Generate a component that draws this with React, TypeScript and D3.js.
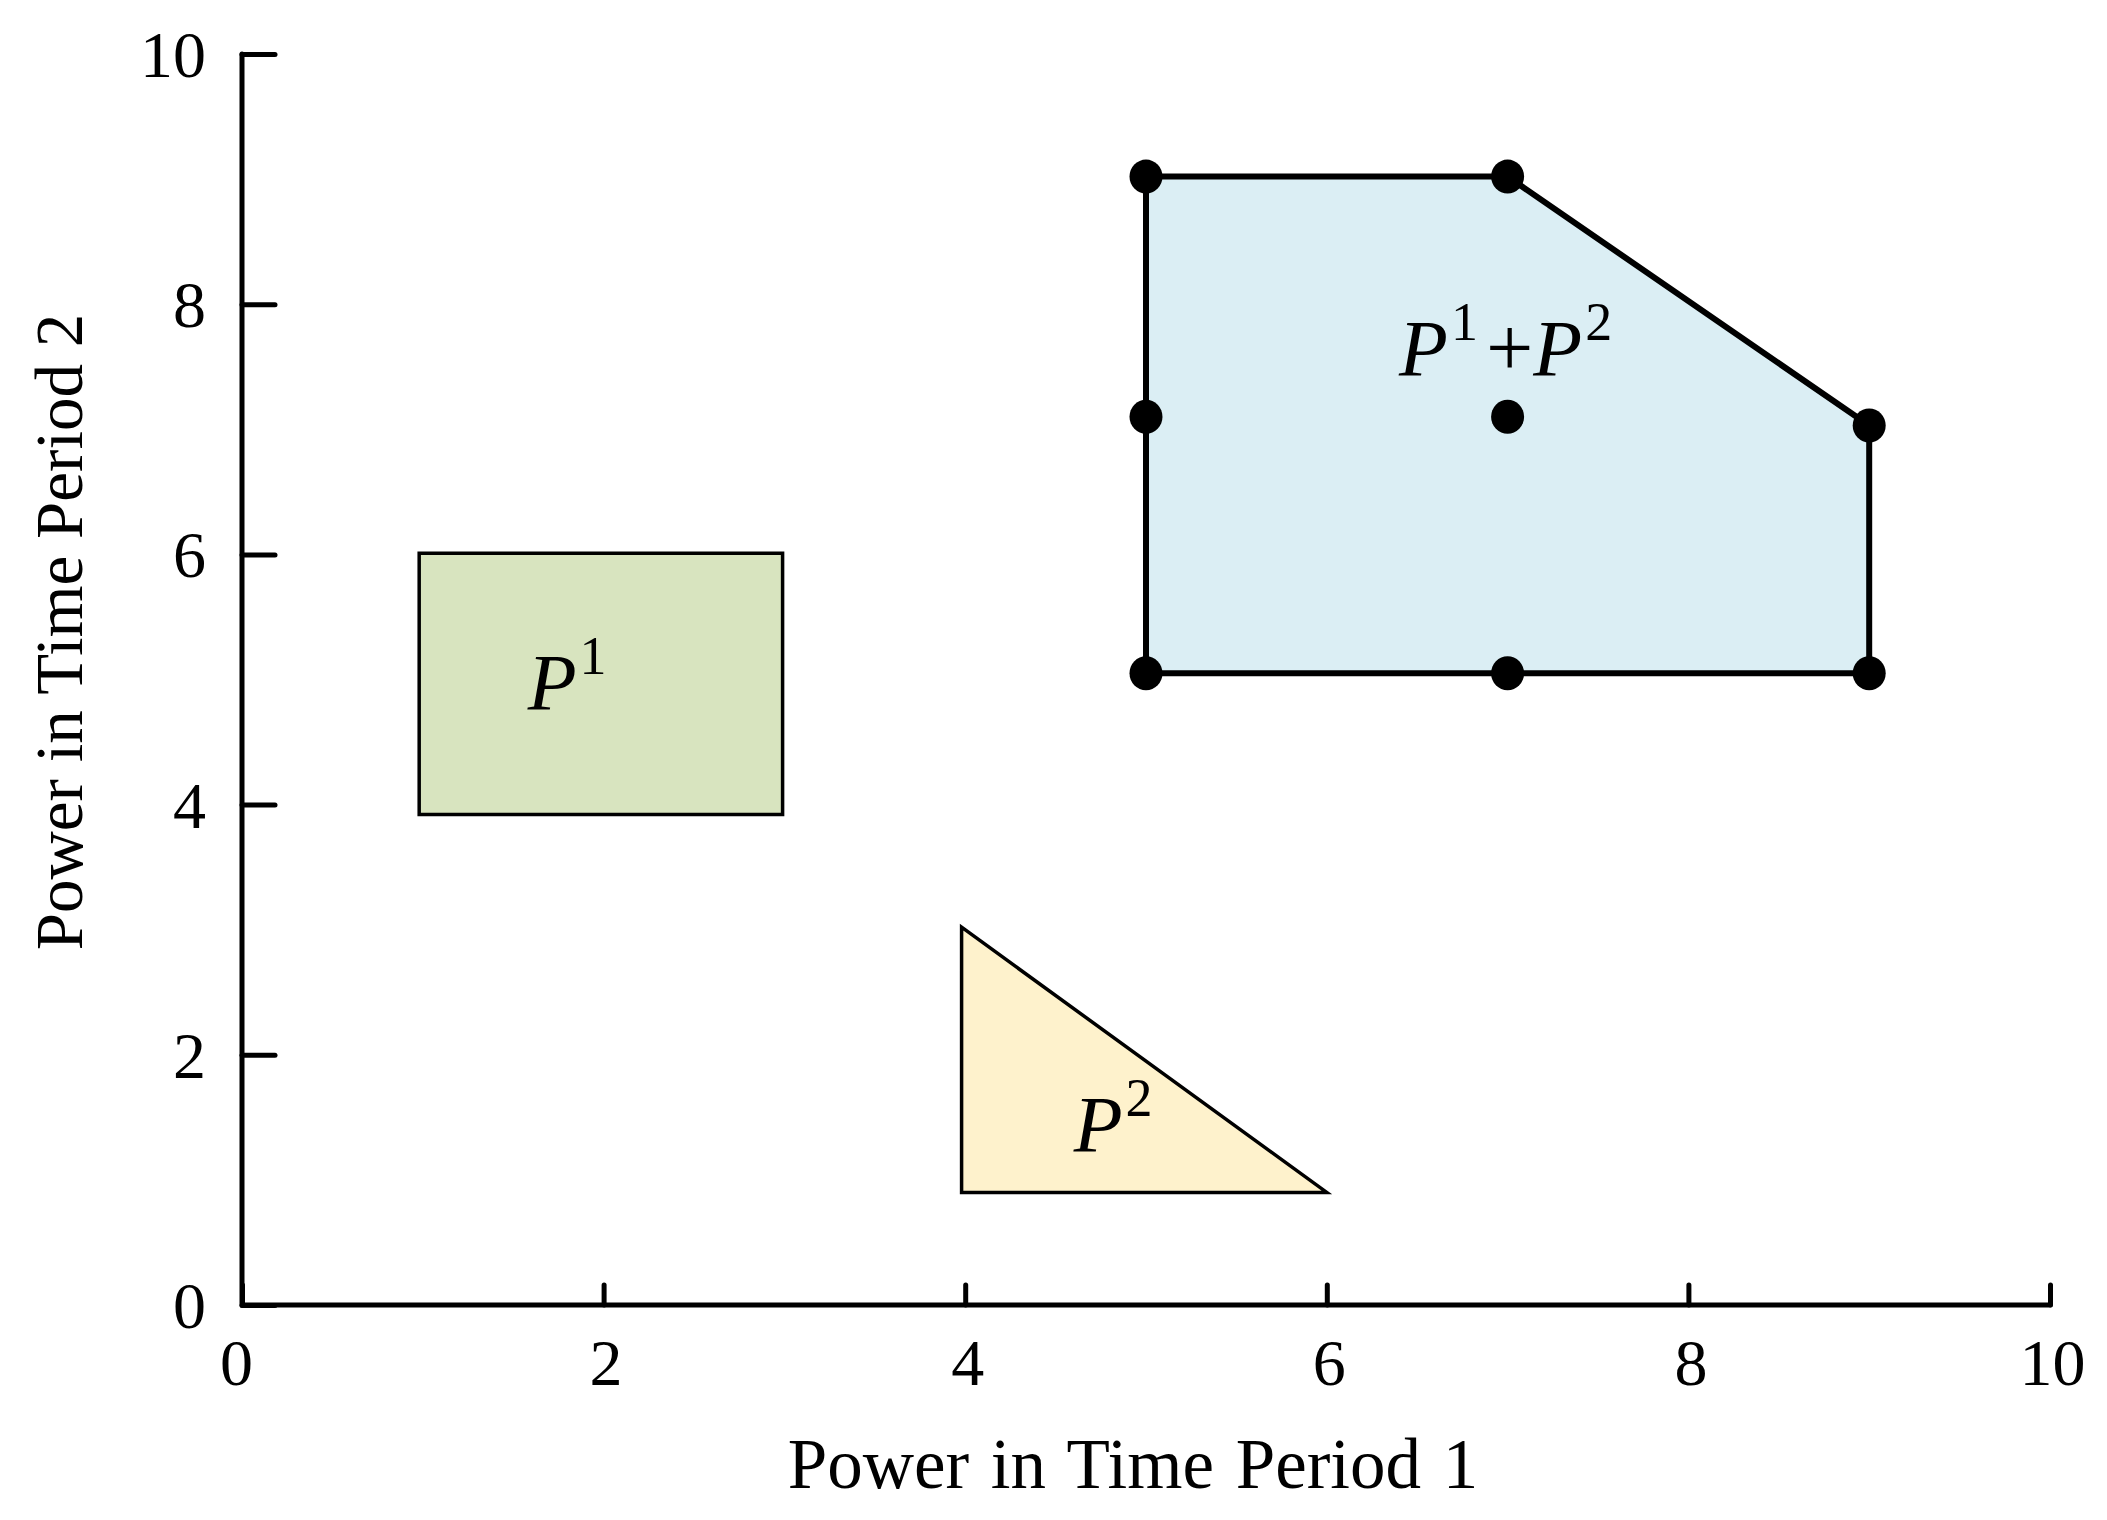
import React, { useRef, useEffect } from "react";
import * as d3 from "d3";

const WIDTH = 2107;
const HEIGHT = 1520;

const CONFIG = {
  xRange: [242, 2050],
  yRange: [1305, 54],
  font: "'Liberation Serif', 'Times New Roman', serif",
  tickFontSize: 66,
  titleFontSize: 71,
  labelFontSize: 80,
  supFontSize: 54,
  axisWidth: 5,
};

// data
const xTicks = [0, 2, 4, 6, 8, 10];
const yTicks = [0, 2, 4, 6, 8, 10];
const xTitle = "Power in Time Period 1";
const yTitle = "Power in Time Period 2";

// P1: box
const p1Polygon: [number, number][] = [
  [0.98, 3.92],
  [2.99, 3.92],
  [2.99, 6.01],
  [0.98, 6.01],
];
// P2: triangle
const p2Polygon: [number, number][] = [
  [3.98, 3.02],
  [6.0, 0.9],
  [3.98, 0.9],
];
// P1 + P2: Minkowski sum
const sumPolygon: [number, number][] = [
  [5, 9.02],
  [7, 9.02],
  [9, 7.03],
  [9, 5.05],
  [5, 5.05],
];
const sumPoints: [number, number][] = [
  [5, 9.02],
  [7, 9.02],
  [9, 7.03],
  [9, 5.05],
  [7, 5.05],
  [5, 5.05],
  [5, 7.1],
  [7, 7.1],
];

const fills = { p1: "#d8e4bf", p2: "#fef2cc", sum: "#dbeef4" };

// label anchors (data units, left/baseline)
const labels = [
  { pos: [1.58, 4.76], parts: [["P", "i"], ["1", "s"]] },
  { pos: [4.6, 1.22], parts: [["P", "i"], ["2", "s"]] },
  { pos: [6.4, 7.43], parts: [["P", "i"], ["1", "s"], ["+", "n"], ["P", "i"], ["2", "s"]] },
];

const App = () => {
  const ref = useRef<SVGSVGElement | null>(null);

  useEffect(() => {
    const svgEl = ref.current;
    if (!svgEl) return;
    const svg = d3.select(svgEl);
    svg.selectAll("*").remove();

    const x = d3.scaleLinear().domain([0, 10]).range(CONFIG.xRange);
    const y = d3.scaleLinear().domain([0, 10]).range(CONFIG.yRange);
    const line = d3
      .line<[number, number]>()
      .x((d) => x(d[0]))
      .y((d) => y(d[1]))
      .curve(d3.curveLinearClosed);

    svg.append("rect").attr("width", WIDTH).attr("height", HEIGHT).attr("fill", "#fff");

    // shapes
    svg.append("path").attr("d", line(p1Polygon)).attr("fill", fills.p1).attr("stroke", "#000").attr("stroke-width", 3.5);
    svg.append("path").attr("d", line(p2Polygon)).attr("fill", fills.p2).attr("stroke", "#000").attr("stroke-width", 3.5);
    svg
      .append("path")
      .attr("d", line(sumPolygon))
      .attr("fill", fills.sum)
      .attr("stroke", "#000")
      .attr("stroke-width", 6)
      .attr("stroke-linejoin", "round");

    svg
      .selectAll(".pt")
      .data(sumPoints)
      .join("ellipse")
      .attr("class", "pt")
      .attr("cx", (d) => x(d[0]))
      .attr("cy", (d) => y(d[1]))
      .attr("rx", 16.5)
      .attr("ry", 17)
      .attr("fill", "#000");

    // labels with superscripts
    labels.forEach((lab) => {
      const t = svg
        .append("text")
        .attr("x", x(lab.pos[0]))
        .attr("y", y(lab.pos[1]))
        .attr("font-family", CONFIG.font)
        .attr("font-size", CONFIG.labelFontSize);
      let raised = false;
      lab.parts.forEach(([s, kind]) => {
        const span = t.append("tspan").text(s);
        if (kind === "s") {
          span.attr("font-size", CONFIG.supFontSize).attr("dy", raised ? 0 : -36).attr("dx", 3);
          raised = true;
        } else {
          if (raised) span.attr("dy", 36).attr("dx", kind === "n" ? 8 : 4);
          raised = false;
          if (kind === "i") span.attr("font-style", "italic");
          if (kind === "n") span.attr("font-size", 84);
        }
      });
    });

    // axes
    const xAxis = svg
      .append("g")
      .attr("transform", `translate(0,${y(0)})`)
      .call(d3.axisBottom(x).tickValues(xTicks).tickSize(-20).tickPadding(0).tickSizeOuter(0));
    xAxis.select(".domain").remove();
    xAxis.selectAll(".tick line").attr("stroke", "#000").attr("stroke-width", CONFIG.axisWidth).attr("stroke-linecap", "round");
    xAxis
      .selectAll(".tick text")
      .attr("font-family", CONFIG.font)
      .attr("font-size", CONFIG.tickFontSize)
      .attr("fill", "#000")
      .attr("dy", null)
      .attr("y", 80)
      .attr("dx", (d: any) => (d === 0 ? -6 : 2));

    const yAxis = svg
      .append("g")
      .attr("transform", `translate(${x(0)},0)`)
      .call(d3.axisLeft(y).tickValues(yTicks).tickSize(-33).tickPadding(0).tickSizeOuter(0));
    yAxis.select(".domain").remove();
    yAxis.selectAll(".tick line").attr("stroke", "#000").attr("stroke-width", CONFIG.axisWidth).attr("stroke-linecap", "round");
    yAxis
      .selectAll(".tick text")
      .attr("font-family", CONFIG.font)
      .attr("font-size", CONFIG.tickFontSize)
      .attr("fill", "#000")
      .attr("x", -36)
      .attr("dy", "0.34em");

    // axis lines (L shape)
    svg
      .append("path")
      .attr("d", `M${x(0)},${y(10)}L${x(0)},${y(0)}L${x(10)},${y(0)}`)
      .attr("fill", "none")
      .attr("stroke", "#000")
      .attr("stroke-width", CONFIG.axisWidth)
      .attr("stroke-linejoin", "round")
      .attr("stroke-linecap", "round");

    // titles
    svg
      .append("text")
      .attr("x", 1133)
      .attr("y", 1488)
      .attr("text-anchor", "middle")
      .attr("font-family", CONFIG.font)
      .attr("font-size", CONFIG.titleFontSize)
      .attr("word-spacing", 4)
      .text(xTitle);

    svg
      .append("text")
      .attr("transform", `translate(82,632) rotate(-90)`)
      .attr("text-anchor", "middle")
      .attr("font-family", CONFIG.font)
      .attr("font-size", 67)
      .text(yTitle);

    return () => {
      svg.selectAll("*").remove();
    };
  }, []);

  return (
    <svg
      ref={ref}
      width={WIDTH}
      height={HEIGHT}
      style={{ position: "absolute", left: 0, top: 0, display: "block" }}
    />
  );
};

export default App;
